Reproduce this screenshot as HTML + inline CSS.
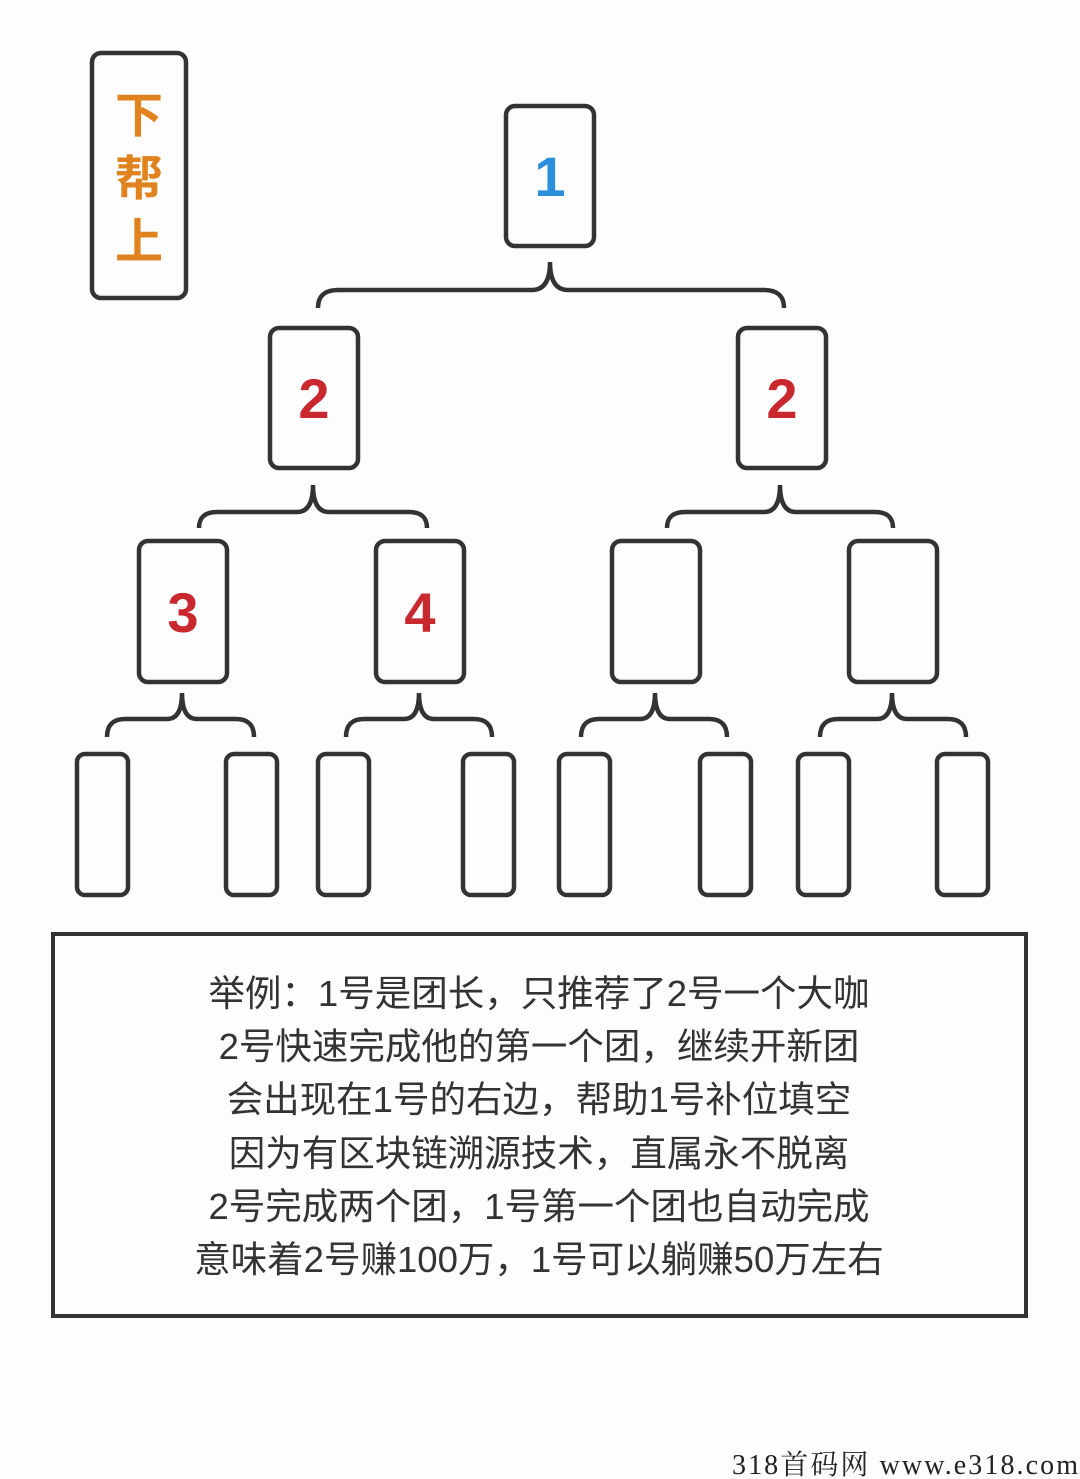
<!DOCTYPE html>
<html><head><meta charset="utf-8"><style>
html,body{margin:0;padding:0;background:#fdfdfd;}
svg{display:block}
</style></head><body>
<svg width="1080" height="1479" viewBox="0 0 1080 1479" xmlns="http://www.w3.org/2000/svg">
<rect width="1080" height="1479" fill="#fdfdfd"/>
<g fill="none" stroke="#333" stroke-width="4.5" stroke-linecap="butt">
<rect x="92" y="53" width="94" height="245" rx="9"/>
<rect x="506" y="106" width="88" height="140" rx="9"/>
<rect x="270" y="328" width="88" height="140" rx="9"/>
<rect x="738" y="328" width="88" height="140" rx="9"/>
<rect x="139" y="541" width="88" height="141" rx="9"/>
<rect x="376" y="541" width="88" height="141" rx="9"/>
<rect x="612" y="541" width="88" height="141" rx="9"/>
<rect x="849" y="541" width="88" height="141" rx="9"/>
<rect x="77" y="754" width="51" height="141" rx="8"/>
<rect x="226" y="754" width="51" height="141" rx="8"/>
<rect x="318" y="754" width="51" height="141" rx="8"/>
<rect x="463" y="754" width="51" height="141" rx="8"/>
<rect x="559" y="754" width="51" height="141" rx="8"/>
<rect x="700" y="754" width="51" height="141" rx="8"/>
<rect x="798" y="754" width="51" height="141" rx="8"/>
<rect x="937" y="754" width="51" height="141" rx="8"/>
<rect x="53" y="934" width="973" height="382" stroke-width="4"/>
<path d="M318 307 L318 308 Q318 290 338 290 L532 290 Q550 290 550 262 Q550 290 568 290 L764 290 Q784 290 784 308"/>
<path d="M199 528 Q199 512 217 512 L297 512 Q313 512 313 485 Q313 512 329 512 L409 512 Q427 512 427 528"/>
<path d="M667 528 Q667 512 685 512 L764 512 Q780 512 780 485 Q780 512 796 512 L875 512 Q893 512 893 528"/>
<path d="M107 737 Q107 719 125 719 L167 719 Q182 719 182 693 Q182 719 197 719 L236 719 Q254 719 254 737"/>
<path d="M346 737 Q346 719 364 719 L404 719 Q419 719 419 693 Q419 719 434 719 L474 719 Q492 719 492 737"/>
<path d="M581 737 Q581 719 599 719 L640 719 Q655 719 655 693 Q655 719 670 719 L709 719 Q727 719 727 737"/>
<path d="M820 737 Q820 719 838 719 L877 719 Q892 719 892 693 Q892 719 907 719 L948 719 Q966 719 966 737"/>
</g>
<g font-family="Liberation Sans, sans-serif" font-weight="bold" font-size="56" text-anchor="middle">
<text x="550" y="196" fill="#2b8fdb">1</text>
<text x="314" y="418" fill="#c9282f">2</text>
<text x="782" y="418" fill="#c9282f">2</text>
<text x="183" y="632" fill="#c9282f">3</text>
<text x="420" y="632" fill="#c9282f">4</text>
</g>
<g font-family="Liberation Sans, Noto Sans CJK SC, sans-serif" font-size="48" fill="#e0821e" text-anchor="middle" font-weight="bold">
<text x="139" y="132">下</text>
<text x="139" y="195">帮</text>
<text x="139" y="258">上</text>
</g>
<g font-family="Liberation Sans, Noto Sans CJK SC, sans-serif" font-size="36.5" fill="#333" text-anchor="middle">
<text x="539" y="1006">举例：1号是团长，只推荐了2号一个大咖</text>
<text x="539" y="1059">2号快速完成他的第一个团，继续开新团</text>
<text x="539" y="1112">会出现在1号的右边，帮助1号补位填空</text>
<text x="539" y="1166">因为有区块链溯源技术，直属永不脱离</text>
<text x="539" y="1219">2号完成两个团，1号第一个团也自动完成</text>
<text x="539" y="1272">意味着2号赚100万，1号可以躺赚50万左右</text>
</g>
<text x="732" y="1474" textLength="346" lengthAdjust="spacing" font-family="Liberation Serif, Noto Serif CJK SC, serif" font-size="28" fill="#222">318首码网 www.e318.com</text>
</svg>
</body></html>
